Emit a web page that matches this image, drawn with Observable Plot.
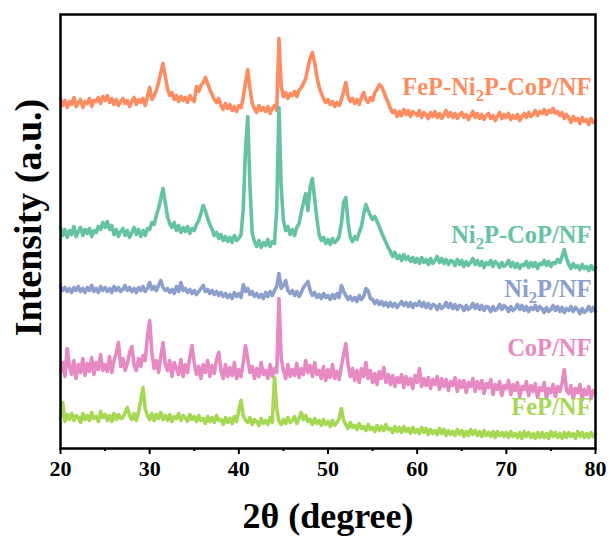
<!DOCTYPE html>
<html>
<head>
<meta charset="utf-8">
<script src="https://cdn.jsdelivr.net/npm/d3@7"></script>
<script src="https://cdn.jsdelivr.net/npm/@observablehq/plot@0.6"></script>
<style>
  html, body { margin: 0; padding: 0; background: #fff; }
  #chart { width: 611px; height: 544px; }
</style>
</head>
<body>
<div id="chart"></div>
<script>
// ---- data ----
const xTicks = [20, 30, 40, 50, 60, 70, 80];
const xMinorTicks = [25, 35, 45, 55, 65, 75];
const xLabel = "2θ (degree)";
const yLabel = "Intensity (a.u.)";
const seriesNames = ["FeP-Ni2P-CoP/NF", "Ni2P-CoP/NF", "Ni2P/NF", "CoP/NF", "FeP/NF"];
const seriesColors = ["#fc8d62", "#66c2a5", "#8da0cb", "#e78ac3", "#a6d854"];
const labelLevel = [361, 213, 159, 100, 41];

// sampling grid: 20° to 80° in 0.25° steps (241 samples)
const twoTheta = d3.range(241).map(i => 20 + i * 0.25);

const fepNi2pCop = [
350,343,348,341, 347,344,351,342, 346,349,341,347, 345,350,342,348, 347,351,345,352,
348,353,346,350, 344,349,343,347, 350,345,348,342, 347,351,344,349, 346,350,343,352,
361,349,353,358, 366,376,385,372, 360,353,356,349, 353,347,352,348, 351,346,353,349,
347,362,357,363, 366,371,365,359, 354,349,346,350, 343,339,345,340, 344,338,342,337,
343,341,351,366, 379,360,345,340, 336,343,338,341, 337,342,335,340, 343,338,410,362,
352,356,350,355, 353,357,352,358, 361,365,370,381, 390,396,386,372, 362,355,350,346,
349,344,347,342, 346,343,349,357, 366,352,347,350, 345,349,344,351, 356,349,346,351,
348,356,359,364, 362,357,351,346, 340,336,338,332, 337,333,339,334, 338,332,337,335,
333,338,331,336, 334,330,336,332, 337,331,335,330, 334,338,332,336, 331,335,330,334,
336,331,334,329, 333,337,331,335, 330,334,329,333, 335,330,333,328, 332,336,330,334,
331,335,329,333, 330,334,328,332, 335,331,336,332, 334,338,333,337, 335,339,334,338,
336,340,335,337, 333,336,330,334, 331,326,332,328, 330,325,331,327, 329,324,330,326,
328];

const ni2pCop = [
221,213,219,211, 218,214,222,212, 217,221,213,219, 215,220,212,218, 216,222,219,226,
221,227,219,223, 214,219,212,217, 220,213,218,211, 216,221,214,219, 212,218,213,220,
219,226,224,233, 240,250,260,246, 232,225,221,226, 218,223,216,221, 217,222,215,220,
218,224,228,235, 243,238,230,224, 219,213,216,210, 214,208,212,207, 211,206,213,208,
210,214,240,300, 332,262,215,207, 202,208,201,206, 203,209,202,207, 205,240,341,262,
228,218,222,214, 219,213,221,225, 236,246,255,238, 262,270,250,230, 214,208,211,205,
209,204,210,206, 208,212,225,246, 251,226,211,207, 212,209,216,222, 234,244,238,233,
229,232,227,222, 216,211,206,201, 197,192,196,190, 193,188,194,189, 192,187,191,186,
190,185,191,186, 189,184,190,185, 188,192,186,190, 185,189,184,188, 187,183,189,184,
188,182,187,183, 186,190,184,188, 183,187,181,186, 184,188,182,187, 185,181,186,182,
184,188,182,186, 181,185,180,184, 183,187,181,186, 182,186,180,185, 184,188,183,187,
182,186,185,189, 186,192,199,190, 184,180,185,181, 183,179,184,180, 182,178,183,179,
181];

const ni2p = [
162,158,161,157, 160,156,161,158, 162,157,160,156, 161,158,163,157, 160,156,162,158,
161,157,160,156, 162,158,161,157, 159,163,158,161, 157,160,156,161, 158,162,157,160,
166,159,162,158, 163,168,161,158, 160,156,159,155, 162,157,166,158, 160,156,159,155,
158,154,157,160, 163,157,159,155, 158,154,157,153, 156,152,155,151, 154,150,156,152,
155,151,164,157, 160,154,157,152, 155,151,154,150, 156,152,157,153, 158,162,175,160,
163,168,158,155, 158,153,157,152, 156,161,164,167, 158,153,156,151, 154,150,155,151,
153,149,154,150, 155,151,163,157, 153,149,152,148, 151,147,153,149, 152,160,158,150,
149,145,148,144, 147,143,146,142, 146,142,145,141, 144,147,143,146, 142,146,141,145,
143,147,142,146, 141,145,140,144, 143,139,144,140, 142,146,141,145, 140,144,139,143,
142,138,143,139, 141,145,140,144, 139,143,138,142, 141,137,142,138, 140,144,139,143,
141,137,142,138, 140,144,139,143, 138,142,137,141, 139,143,138,142, 140,136,141,137,
139,143,138,142, 137,141,136,140, 138,142,137,141, 139,135,140,136, 138,142,137,141,
137];

const cop = [
76,86,72,100, 82,74,88,70, 84,76,90,73, 85,77,91,74, 86,79,94,78,
84,77,92,76, 88,95,106,82, 90,78,85,96, 102,84,78,90, 82,93,88,112,
128,96,80,88, 76,92,106,84, 78,88,72,86, 80,74,89,72, 84,76,91,103,
86,74,82,70, 84,76,88,72, 83,75,89,96, 78,70,84,72, 81,73,86,70,
79,72,86,103, 90,76,82,70, 80,72,86,74, 78,70,84,72, 80,76,150,90,
78,70,84,72, 79,73,85,71, 80,74,88,76, 83,72,86,74, 78,70,82,68,
79,71,84,70, 77,69,82,94, 105,84,72,80, 68,78,66,80, 72,86,70,78,
66,75,64,77, 70,81,66,74, 64,73,62,71, 66,74,61,72, 64,70,60,73,
66,80,62,70, 63,71,60,69, 64,72,59,70, 62,69,58,67, 63,71,57,68,
61,68,56,66, 62,70,57,67, 60,68,55,65, 61,69,54,64, 59,67,53,63,
60,68,54,64, 58,66,52,62, 59,67,53,63, 57,65,51,61, 58,66,50,60,
56,64,52,62, 57,65,79,58, 55,63,50,60, 56,64,49,59, 54,62,50,58,
56];

const fep = [
30,46,27,34, 29,35,28,33, 31,26,35,29, 33,28,36,30, 32,27,37,31,
34,28,33,27, 35,29,34,30, 31,36,41,33, 29,35,28,36, 48,61,40,33,
29,35,28,34, 30,36,29,33, 28,34,27,32, 30,35,28,33, 31,27,34,29,
32,27,33,28, 30,25,32,27, 31,26,33,28, 29,24,31,26, 30,25,32,27,
38,48,33,28, 26,31,24,29, 27,23,30,25, 28,24,31,26, 71,40,27,24,
29,25,31,26, 28,32,25,30, 36,29,33,27, 29,24,30,25, 28,23,29,24,
27,22,28,23, 26,30,40,28, 24,20,26,21, 23,19,25,20, 22,18,24,19,
21,17,23,18, 22,18,24,19, 20,16,22,17, 21,16,22,17, 20,15,21,16,
19,15,21,16, 20,14,19,15, 18,14,20,15, 19,13,18,14, 17,13,19,14,
18,12,17,13, 19,14,18,13, 17,12,18,13, 16,12,17,11, 17,13,16,12,
16,11,17,12, 15,11,16,10, 17,12,16,11, 15,10,16,11, 16,11,15,10,
17,12,16,11, 15,10,16,11, 16,12,15,10, 17,12,16,11, 15,11,16,12,
14];

const seriesValues = [fepNi2pCop, ni2pCop, ni2p, cop, fep];

// ---- table built from the arrays ----
const rows = [];
seriesNames.forEach((name, s) => {
  seriesValues[s].forEach((v, i) => rows.push({series: name, theta: twoTheta[i], intensity: v}));
});
const labels = seriesNames.map((name, s) => ({series: name, theta: 80, level: labelLevel[s]}));

const serif = "'Liberation Serif', 'Times New Roman', serif";

const plot = Plot.plot({
  width: 611,
  height: 544,
  marginLeft: 60,
  marginRight: 16,
  marginTop: 14,
  marginBottom: 96,
  style: {fontFamily: serif, background: "#fff", color: "#000"},
  x: {domain: [20, 80]},
  y: {domain: [0, 434], axis: null},
  color: {domain: seriesNames, range: seriesColors},
  marks: [
    Plot.line(rows, {x: "theta", y: "intensity", z: "series", stroke: "series", strokeWidth: 3.6, strokeLinejoin: "round"}),
    Plot.text(labels, {x: "theta", y: "level", text: "series", fill: "series", textAnchor: "end", dx: -4,
      fontSize: 24.5, fontWeight: "bold", fontFamily: serif}),
    Plot.axisX(xMinorTicks, {tickSize: 3, strokeWidth: 2, tickFormat: () => "", label: null}),
    Plot.axisX(xTicks, {tickSize: 6, strokeWidth: 2, tickPadding: 6, fontSize: 22, fontWeight: "bold", label: null}),
    Plot.frame({stroke: "#000", strokeWidth: 2.5}),
    Plot.text([xLabel], {frameAnchor: "bottom", dy: 79, fontSize: 36, fontWeight: "bold", fontFamily: serif}),
    Plot.text([yLabel], {frameAnchor: "left", textAnchor: "middle", rotate: -90, dx: -32, dy: -14,
      fontSize: 38, fontWeight: "bold", fontFamily: serif})
  ]
});

// subscript the "2" in Ni2P labels
d3.select(plot).selectAll("text").each(function() {
  const t = this.textContent;
  if (!t.includes("Ni2P")) return;
  const sel = d3.select(this);
  sel.text(null);
  const k = t.indexOf("Ni2P");
  sel.append("tspan").text(t.slice(0, k + 2));
  sel.append("tspan").attr("dy", 6).attr("font-size", "0.68em").text("2");
  sel.append("tspan").attr("dy", -6).text(t.slice(k + 3));
});

document.getElementById("chart").appendChild(plot);
</script>
</body>
</html>
